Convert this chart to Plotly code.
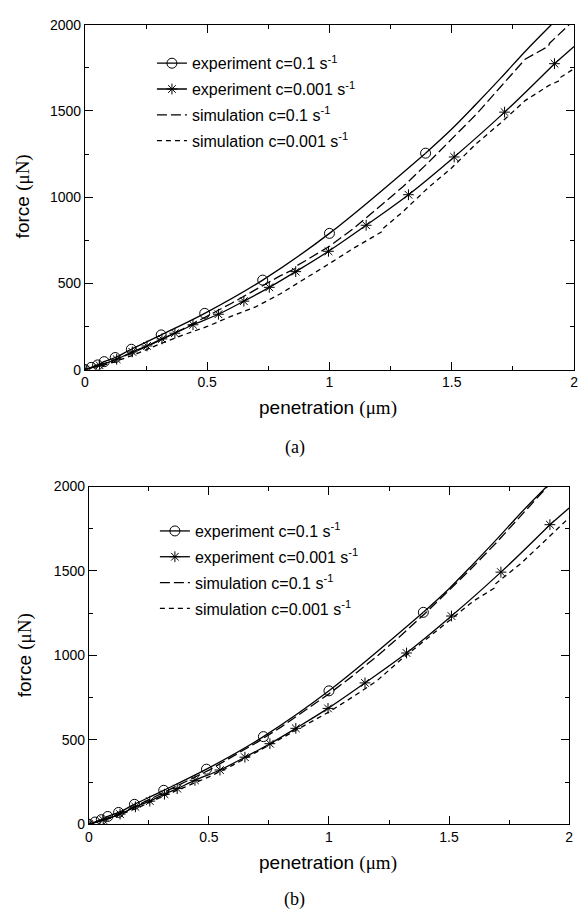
import plotly.graph_objects as go

# ---------------- data ----------------
# experiment c=0.1 s^-1 (circles) and continuation of its solid fit curve
exp_fast_x = [0, 0.026, 0.052, 0.079, 0.124, 0.19, 0.312, 0.49, 0.727, 1.0, 1.393]
exp_fast_y = [0, 13, 27, 46, 70, 118, 201, 326, 519, 790, 1255]
exp_fast_tail_x = [1.393, 1.5, 1.6, 1.7, 1.8, 1.907]
exp_fast_tail_y = [1255, 1395, 1540, 1690, 1845, 2000]

# experiment c=0.001 s^-1 (asterisks) and continuation of its solid curve
exp_slow_x = [0, 0.06, 0.13, 0.194, 0.254, 0.315, 0.368, 0.442, 0.546, 0.65,
              0.754, 0.862, 0.996, 1.15, 1.323, 1.51, 1.716, 1.92]
exp_slow_y = [0, 25, 60, 103, 137, 178, 211, 260, 321, 397,
              477, 568, 686, 837, 1014, 1233, 1493, 1774]
exp_slow_tail_x = [1.92, 2.0]
exp_slow_tail_y = [1774, 1873]

# panel (a) simulations
sim_fast_a_x = [0, 0.1, 0.2, 0.3, 0.4, 0.5, 0.6, 0.7, 0.8, 0.866, 0.87, 0.9, 1.0,
                1.1, 1.2, 1.3, 1.4, 1.5, 1.6, 1.7, 1.8, 1.895, 1.9, 1.98]
sim_fast_a_y = [0, 45, 100, 165, 235, 310, 385, 465, 545, 590, 606, 630, 715,
                820, 940, 1060, 1195, 1335, 1480, 1640, 1800, 1875, 1893, 2000]
sim_slow_a_x = [0, 0.1, 0.2, 0.3, 0.4, 0.5, 0.6, 0.7, 0.8, 0.9, 1.0, 1.1, 1.2,
                1.215, 1.22, 1.3, 1.4, 1.5, 1.6, 1.7, 1.8, 1.9, 1.94, 1.945, 2.0]
sim_slow_a_y = [0, 35, 85, 145, 200, 250, 310, 365, 440, 525, 615, 705, 790,
                800, 820, 915, 1050, 1170, 1310, 1430, 1560, 1650, 1675, 1695, 1745]

# panel (b) simulations
sim_fast_b_x = [0, 0.1, 0.2, 0.3, 0.4, 0.5, 0.6, 0.7, 0.8, 0.9, 1.0, 1.1, 1.2,
                1.3, 1.4, 1.5, 1.6, 1.7, 1.8, 1.9, 1.91]
sim_fast_b_y = [0, 48, 110, 182, 250, 320, 400, 485, 575, 672, 772, 880, 995,
                1118, 1248, 1385, 1525, 1672, 1828, 1985, 2000]
sim_slow_b_x = [0, 0.1, 0.2, 0.3, 0.4, 0.5, 0.6, 0.7, 0.8, 0.9, 1.0, 1.1, 1.2,
                1.3, 1.4, 1.5, 1.6, 1.69, 1.695, 1.8, 1.9, 1.95, 2.0]
sim_slow_b_y = [0, 40, 95, 160, 220, 280, 350, 430, 505, 585, 665, 755, 850,
                975, 1090, 1205, 1320, 1400, 1425, 1545, 1680, 1750, 1815]

names = ["experiment c=0.1 s<sup>-1</sup>", "experiment c=0.001 s<sup>-1</sup>",
         "simulation c=0.1 s<sup>-1</sup>", "simulation c=0.001 s<sup>-1</sup>"]

x_ticks = [0, 0.5, 1, 1.5, 2]
x_ticktext = ["0", "0.5", "1", "1.5", "2"]
y_ticks = [0, 500, 1000, 1500, 2000]

# ---------------- figure ----------------
W, H = 582, 919
fig = go.Figure()
LW = 1.3


def add_panel(xa, ya, legend, sim_fx, sim_fy, sim_sx, sim_sy):
    fig.add_trace(go.Scatter(x=exp_fast_x, y=exp_fast_y, mode="lines+markers", name=names[0],
                             line=dict(color="black", width=LW, shape="spline"),
                             marker=dict(symbol="circle-open", size=10, color="black",
                                         line=dict(width=1, color="black")),
                             xaxis=xa, yaxis=ya, legend=legend, legendgroup=legend + "1"))
    fig.add_trace(go.Scatter(x=exp_fast_tail_x, y=exp_fast_tail_y, mode="lines", showlegend=False,
                             line=dict(color="black", width=LW, shape="spline"),
                             xaxis=xa, yaxis=ya))
    fig.add_trace(go.Scatter(x=exp_slow_x, y=exp_slow_y, mode="lines+markers", name=names[1],
                             line=dict(color="black", width=LW, shape="spline"),
                             marker=dict(symbol="asterisk-open", size=9, color="black",
                                         line=dict(width=1, color="black")),
                             xaxis=xa, yaxis=ya, legend=legend, legendgroup=legend + "2"))
    fig.add_trace(go.Scatter(x=exp_slow_tail_x, y=exp_slow_tail_y, mode="lines", showlegend=False,
                             line=dict(color="black", width=LW),
                             xaxis=xa, yaxis=ya))
    fig.add_trace(go.Scatter(x=sim_fx, y=sim_fy, mode="lines", name=names[2],
                             line=dict(color="black", width=LW, dash="10px,4px"),
                             xaxis=xa, yaxis=ya, legend=legend, legendgroup=legend + "3"))
    fig.add_trace(go.Scatter(x=sim_sx, y=sim_sy, mode="lines", name=names[3],
                             line=dict(color="black", width=LW, dash="5px,4px"),
                             xaxis=xa, yaxis=ya, legend=legend, legendgroup=legend + "4"))


add_panel("x", "y", "legend", sim_fast_a_x, sim_fast_a_y, sim_slow_a_x, sim_slow_a_y)
add_panel("x2", "y2", "legend2", sim_fast_b_x, sim_fast_b_y, sim_slow_b_x, sim_slow_b_y)

tick_font = dict(family="Liberation Sans, Arial, sans-serif", size=14, color="black")


def xaxis(domain, anchor):
    return dict(domain=domain, anchor=anchor, range=[0, 2], tickvals=x_ticks, ticktext=x_ticktext,
                ticks="inside", ticklen=8, tickwidth=1, tickcolor="black",
                minor=dict(ticks="inside", ticklen=4, dtick=0.25, tickcolor="black", tickwidth=1),
                showline=True, linecolor="black", linewidth=1, mirror="allticks",
                showgrid=False, zeroline=False, tickfont=tick_font)


def yaxis(domain, anchor):
    return dict(domain=domain, anchor=anchor, range=[0, 2000], tickvals=y_ticks,
                ticks="inside", ticklen=8, tickwidth=1, tickcolor="black",
                minor=dict(ticks="inside", ticklen=4, dtick=250, tickcolor="black", tickwidth=1),
                showline=True, linecolor="black", linewidth=1, mirror="allticks",
                showgrid=False, zeroline=False, tickfont=tick_font)


def px_x(p):
    return p / W


def px_y(p):
    return 1 - p / H


legend_font = dict(family="Liberation Sans, Arial, sans-serif", size=16, color="black")

fig.update_layout(
    width=W, height=H,
    margin=dict(l=0, r=0, t=0, b=0),
    paper_bgcolor="white", plot_bgcolor="white",
    xaxis=xaxis([px_x(82), px_x(578)], "y"),
    yaxis=yaxis([px_y(368), px_y(17)], "x"),
    xaxis2=xaxis([px_x(86), px_x(573)], "y2"),
    yaxis2=yaxis([px_y(830.7), px_y(487)], "x2"),
    legend=dict(x=px_x(150), y=px_y(39), xanchor="left", yanchor="top", font=legend_font,
                bgcolor="rgba(0,0,0,0)", tracegroupgap=2, itemwidth=30),
    legend2=dict(x=px_x(153), y=px_y(515), xanchor="left", yanchor="top", font=legend_font,
                 bgcolor="rgba(0,0,0,0)", tracegroupgap=2, itemwidth=30),
    showlegend=True,
)

title_font = dict(family="Liberation Sans, Arial, sans-serif", size=19, color="black")
serif = "font-family:'Liberation Serif', 'Times New Roman', serif"
xtitle = "penetration <span style=\"%s\">(μm)</span>" % serif
ytitle = "force <span style=\"%s\">(μN)</span>" % serif
cap_font = dict(family="Liberation Serif, Times New Roman, serif", size=18, color="black")

annots = [
    (329, 407, xtitle, 0, title_font),
    (329, 870, xtitle, 0, title_font),
    (19, 192, ytitle, -90, title_font),
    (21, 659, ytitle, -90, title_font),
    (295, 447, "(a)", 0, cap_font),
    (295, 907, "(b)", 0, cap_font),
]
for ax_, ay_, txt, ang, fnt in annots:
    fig.add_annotation(x=px_x(ax_), y=px_y(ay_), xref="paper", yref="paper", text=txt,
                       showarrow=False, textangle=ang, font=fnt, xanchor="center", yanchor="middle")

fig.write_html("out.html")
